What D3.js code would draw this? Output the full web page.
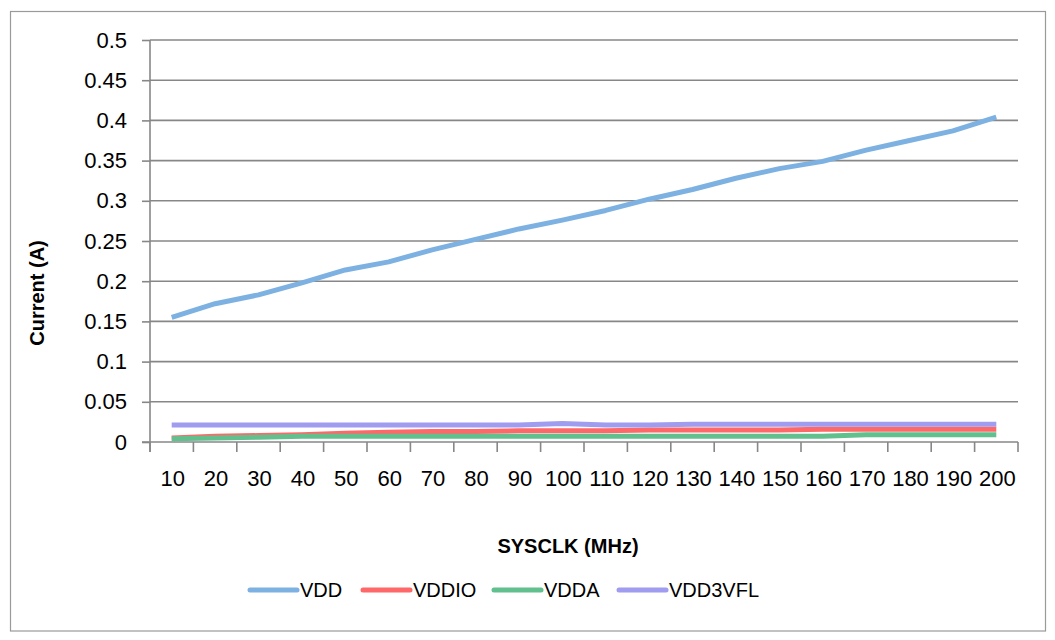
<!DOCTYPE html>
<html>
<head>
<meta charset="utf-8">
<script src="https://cdn.jsdelivr.net/npm/d3@7"></script>
<style>
  body { margin: 0; background: #fff; }
  text { font-family: "Liberation Sans", Arial, sans-serif; fill: #000; }
</style>
</head>
<body>
<div id="chart"></div>
<script>
// --- data ---
const sysclk = [10, 20, 30, 40, 50, 60, 70, 80, 90, 100, 110, 120, 130, 140, 150, 160, 170, 180, 190, 200];
const vdd     = [0.155, 0.172, 0.183, 0.198, 0.214, 0.224, 0.239, 0.252, 0.265, 0.276, 0.288, 0.302, 0.314, 0.328, 0.340, 0.349, 0.363, 0.375, 0.387, 0.404];
const vddio   = [0.005, 0.007, 0.008, 0.009, 0.011, 0.012, 0.013, 0.013, 0.014, 0.014, 0.014, 0.015, 0.015, 0.015, 0.015, 0.016, 0.016, 0.016, 0.016, 0.016];
const vdda    = [0.004, 0.005, 0.006, 0.007, 0.007, 0.007, 0.007, 0.007, 0.007, 0.007, 0.007, 0.007, 0.007, 0.007, 0.007, 0.007, 0.009, 0.009, 0.009, 0.009];
const vdd3vfl = [0.021, 0.021, 0.021, 0.021, 0.021, 0.021, 0.021, 0.021, 0.021, 0.023, 0.021, 0.021, 0.022, 0.022, 0.022, 0.022, 0.022, 0.022, 0.022, 0.022];
const yTicks  = [0, 0.05, 0.1, 0.15, 0.2, 0.25, 0.3, 0.35, 0.4, 0.45, 0.5];

const series = [
  { name: "VDD", values: vdd, color: "#7db1e1" },
  { name: "VDDIO", values: vddio, color: "#fe6868" },
  { name: "VDDA", values: vdda, color: "#62c08e" },
  { name: "VDD3VFL", values: vdd3vfl, color: "#a09cef" }
];

const width = 1055, height = 640;
const plot = { left: 150, right: 1018, top: 40, bottom: 442 };
const gridColor = "#878787";

const svg = d3.select("#chart").append("svg").attr("width", width).attr("height", height);

// outer frame
svg.append("rect")
  .attr("x", 10.5).attr("y", 11.5).attr("width", 1035).attr("height", 619.5)
  .attr("fill", "#fff").attr("stroke", "#9a9a9a").attr("stroke-width", 1.2);

const x = d3.scaleBand().domain(sysclk).range([plot.left, plot.right]);
const y = d3.scaleLinear().domain([0, 0.5]).range([plot.bottom, plot.top]);

// horizontal gridlines
svg.append("g").selectAll("line").data(yTicks.slice(1)).join("line")
  .attr("x1", plot.left).attr("x2", plot.right)
  .attr("y1", d => y(d)).attr("y2", d => y(d))
  .attr("stroke", gridColor).attr("stroke-width", 1.6);

// y axis
const yAxis = svg.append("g").attr("transform", `translate(${plot.left},0)`)
  .call(d3.axisLeft(y).tickValues(yTicks).tickSize(8).tickPadding(15).tickFormat(d => String(d)));
yAxis.select(".domain").attr("stroke", gridColor).attr("stroke-width", 1.6).attr("d", `M0,${plot.top}V${plot.bottom + 10}`);
yAxis.selectAll(".tick line").attr("stroke", gridColor).attr("stroke-width", 1.6);
yAxis.selectAll(".tick text").style("font-size", "22px").style("font-family", "Liberation Sans, Arial, sans-serif");

// x axis (category ticks between categories)
const xAxis = svg.append("g").attr("transform", `translate(0,${plot.bottom})`);
xAxis.append("line").attr("x1", plot.left - 8).attr("x2", plot.right)
  .attr("stroke", gridColor).attr("stroke-width", 1.6);
const bounds = sysclk.map(d => x(d)).concat([plot.right]);
xAxis.selectAll("line.tk").data(bounds).join("line").attr("class", "tk")
  .attr("x1", d => d).attr("x2", d => d).attr("y1", 0).attr("y2", 10)
  .attr("stroke", gridColor).attr("stroke-width", 1.6);
xAxis.selectAll("text").data(sysclk).join("text")
  .attr("x", d => x(d) + x.bandwidth() / 2 + 1).attr("y", 44)
  .attr("text-anchor", "middle").style("font-size", "22px")
  .text(d => d);

// axis titles
svg.append("text").attr("x", (plot.left + plot.right) / 2 - 16).attr("y", 553)
  .attr("text-anchor", "middle").style("font-size", "20px").style("font-weight", "bold")
  .text("SYSCLK (MHz)");
svg.append("text").attr("transform", "translate(44,293) rotate(-90)")
  .attr("text-anchor", "middle").style("font-size", "20px").style("font-weight", "bold")
  .text("Current (A)");

// series lines
const line = d3.line()
  .x((d, i) => x(sysclk[i]) + x.bandwidth() / 2)
  .y(d => y(d));
svg.append("g").selectAll("path").data(series).join("path")
  .attr("d", d => line(d.values))
  .attr("fill", "none").attr("stroke", d => d.color)
  .attr("stroke-width", 5).attr("stroke-linejoin", "round").attr("stroke-linecap", "butt");

// legend
const legendX = [250, 363, 494, 619];
const leg = svg.append("g").selectAll("g").data(series).join("g")
  .attr("transform", (d, i) => `translate(${legendX[i]},590)`);
leg.append("line").attr("x1", 0).attr("x2", 47)
  .attr("stroke", d => d.color).attr("stroke-width", 5).attr("stroke-linecap", "round");
leg.append("text").attr("x", 50).attr("y", 7).style("font-size", "20px").text(d => d.name);
</script>
</body>
</html>
